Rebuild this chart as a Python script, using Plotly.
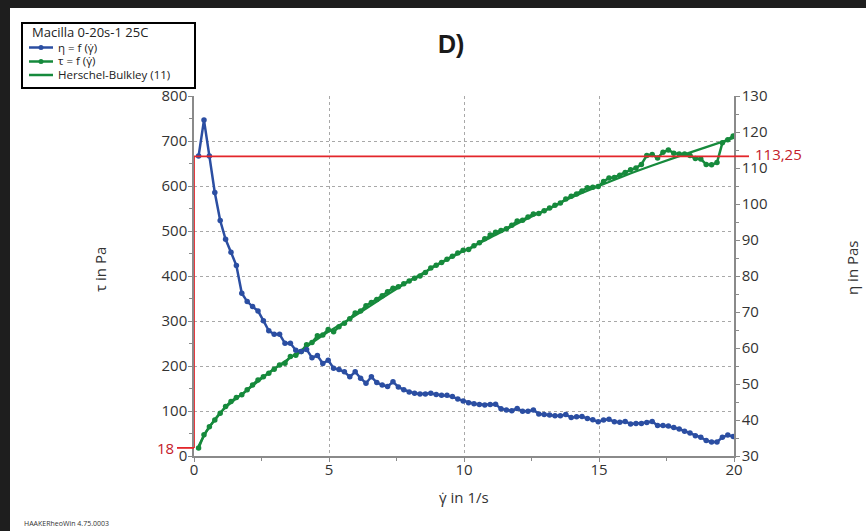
import plotly.graph_objects as go

# ---- data ----
shear_rate = [0.17, 0.37, 0.57, 0.77, 0.97, 1.17, 1.37, 1.57, 1.77, 1.97,
              2.17, 2.37, 2.57, 2.77, 2.97, 3.17, 3.37, 3.57, 3.77, 3.97,
              4.17, 4.37, 4.57, 4.77, 4.97, 5.17, 5.37, 5.57, 5.77, 5.97,
              6.17, 6.37, 6.57, 6.77, 6.97, 7.17, 7.37, 7.57, 7.77, 7.97,
              8.17, 8.37, 8.57, 8.77, 8.97, 9.17, 9.37, 9.57, 9.77, 9.97,
              10.17, 10.37, 10.57, 10.77, 10.97, 11.17, 11.37, 11.57, 11.77, 11.97,
              12.17, 12.37, 12.57, 12.77, 12.97, 13.17, 13.37, 13.57, 13.77, 13.97,
              14.17, 14.37, 14.57, 14.77, 14.97, 15.17, 15.37, 15.57, 15.77, 15.97,
              16.17, 16.37, 16.57, 16.77, 16.97, 17.17, 17.37, 17.57, 17.77, 17.97,
              18.17, 18.37, 18.57, 18.77, 18.97, 19.17, 19.37, 19.57, 19.77, 19.97]

shear_stress = [18, 47, 65, 80, 95, 110, 121, 130, 136, 147,
                158, 169, 176, 184, 193, 202, 206, 221, 224, 232,
                247, 252, 267, 269, 281, 276, 287, 295, 305, 318,
                322, 334, 341, 348, 356, 365, 373, 376, 383, 389,
                395, 400, 408, 418, 424, 430, 437, 444, 451, 457,
                459, 467, 474, 483, 491, 497, 501, 505, 513, 522,
                524, 531, 538, 539, 545, 551, 557, 562, 571, 577,
                582, 589, 596, 597, 599, 610, 618, 619, 624, 630,
                636, 640, 648, 668, 670, 662, 675, 680, 673, 671,
                671, 668, 661, 660, 648, 647, 652, 696, 703, 711]

viscosity = [113.3, 123.3, 113.3, 103.2, 95.4, 90.2, 86.6, 82.9, 75.2, 72.9,
             71.5, 70.3, 67.6, 64.8, 63.8, 63.8, 61.3, 61.3, 59.4, 59.0,
             59.6, 57.3, 57.9, 55.7, 56.6, 54.4, 54.0, 53.4, 52.0, 53.4,
             51.6, 50.2, 52.0, 50.4, 49.7, 49.3, 50.6, 49.2, 48.4, 47.8,
             47.4, 47.2, 47.2, 47.4, 47.1, 46.9, 46.9, 46.5, 45.8, 45.3,
             44.8, 44.5, 44.3, 44.2, 44.3, 44.4, 43.1, 42.8, 42.6, 43.2,
             42.4, 42.4, 42.8, 41.7, 41.5, 41.4, 41.2, 41.2, 41.5, 40.7,
             40.9, 41.0, 40.4, 40.1, 39.5, 40.0, 40.2, 39.5, 39.4, 39.6,
             38.9, 39.0, 39.0, 39.3, 39.6, 38.5, 38.5, 38.3, 37.9, 37.5,
             36.9, 36.4, 35.6, 35.2, 34.3, 33.9, 33.9, 35.2, 35.8, 35.4]

hb_shear_rate = [0.17, 0.5, 1, 2, 3, 4, 5, 6, 7, 8, 9, 10,
                 11, 12, 13, 14, 15, 16, 17, 18, 19, 20]
hb_stress = [22, 58, 98, 148, 195, 236, 277, 313, 352, 390, 424, 456,
             486, 517, 546, 575, 600, 624, 646, 667, 687, 707]

eta_marker = 113.25
tau_marker = 18

x_ticks = [0, 5, 10, 15, 20]
tau_ticks = [0, 100, 200, 300, 400, 500, 600, 700, 800]
eta_ticks = [30, 40, 50, 60, 70, 80, 90, 100, 110, 120, 130]

BLUE = "#2b4ea2"
GREEN = "#168a3c"
RED = "#e3262b"
RED_TXT = "#c4202a"
FONT = "Open Sans"

# plot area in pixels
L, R, T, B = 194, 734, 96, 456
W, H = 866, 531


def px(x):
    return (x - L) / (R - L)


def py(y):
    return (B - y) / (B - T)


fig = go.Figure()
fig.add_trace(go.Scatter(x=shear_rate, y=viscosity, yaxis="y2", mode="lines+markers",
                         line=dict(color=BLUE, width=2.5),
                         marker=dict(color=BLUE, size=5.5, symbol="circle"),
                         name="η = f (γ̇)", showlegend=False))
fig.add_trace(go.Scatter(x=shear_rate, y=shear_stress, mode="lines+markers",
                         line=dict(color=GREEN, width=2.5),
                         marker=dict(color=GREEN, size=5.5, symbol="circle"),
                         name="τ = f (γ̇)", showlegend=False))
fig.add_trace(go.Scatter(x=hb_shear_rate, y=hb_stress, mode="lines",
                         line=dict(color=GREEN, width=2.2, shape="spline"),
                         name="Herschel-Bulkley (11)", showlegend=False))

shapes = []
# red marker lines
shapes.append(dict(type="line", xref="x", yref="y2", x0=0, x1=20, y0=eta_marker, y1=eta_marker,
                   line=dict(color=RED, width=1.8)))
shapes.append(dict(type="line", xref="paper", yref="y2", x0=1.0, x1=px(749), y0=eta_marker, y1=eta_marker,
                   line=dict(color=RED, width=1.8)))
shapes.append(dict(type="line", xref="x", yref="y", x0=0, x1=0, y0=tau_marker, y1=665,
                   line=dict(color=RED, width=1.8)))
shapes.append(dict(type="line", xref="paper", yref="y", x0=px(177), x1=0, y0=tau_marker, y1=tau_marker,
                   line=dict(color=RED, width=1.8)))

# dark frame edges of the screenshot
shapes.append(dict(type="rect", xref="paper", yref="paper", x0=px(-2), x1=px(10), y0=py(H + 2), y1=py(-2),
                   fillcolor="#1e1e1e", line=dict(width=0), layer="above"))
shapes.append(dict(type="rect", xref="paper", yref="paper", x0=px(-2), x1=px(W + 2), y0=py(8), y1=py(-2),
                   fillcolor="#1e1e1e", line=dict(width=0), layer="above"))

# legend box
shapes.append(dict(type="rect", xref="paper", yref="paper", x0=px(22), x1=px(195), y0=py(88), y1=py(23),
                   fillcolor="white", line=dict(color="black", width=2), layer="above"))
legend_rows = [(47.5, BLUE, True, "η = f (γ̇)"), (61.5, GREEN, True, "τ = f (γ̇)"),
               (75, GREEN, False, "Herschel-Bulkley (11)")]
annotations = []
annotations.append(dict(xref="paper", yref="paper", x=px(30), y=py(32.5), text="Macilla 0-20s-1 25C",
                        showarrow=False, xanchor="left", yanchor="middle",
                        font=dict(family=FONT, size=13, color="#222")))
for yy, col, mk, label in legend_rows:
    shapes.append(dict(type="line", xref="paper", yref="paper", x0=px(29), x1=px(53), y0=py(yy), y1=py(yy),
                       line=dict(color=col, width=2.5), layer="above"))
    if mk:
        shapes.append(dict(type="circle", xref="paper", yref="paper", x0=px(38.5), x1=px(43.5),
                           y0=py(yy + 2.5), y1=py(yy - 2.5), fillcolor=col, line=dict(color=col, width=0),
                           layer="above"))
    annotations.append(dict(xref="paper", yref="paper", x=px(56), y=py(yy - 0.5), text=label,
                            showarrow=False, xanchor="left", yanchor="middle",
                            font=dict(family=FONT, size=11.5, color="#222")))

# title and axis labels
annotations.append(dict(xref="paper", yref="paper", x=px(451), y=py(44), text="<b>D)</b>",
                        showarrow=False, xanchor="center", yanchor="middle",
                        font=dict(family="Liberation Sans", size=25, color="#1a1a1a")))
annotations.append(dict(xref="paper", yref="paper", x=px(100), y=py(270), text="τ in Pa",
                        showarrow=False, textangle=-90, xanchor="center", yanchor="middle",
                        font=dict(family=FONT, size=15, color="#333")))
annotations.append(dict(xref="paper", yref="paper", x=px(852), y=py(268), text="η in Pas",
                        showarrow=False, textangle=-90, xanchor="center", yanchor="middle",
                        font=dict(family=FONT, size=15, color="#333")))
annotations.append(dict(xref="paper", yref="paper", x=px(464), y=py(497), text="γ̇ in 1/s",
                        showarrow=False, xanchor="center", yanchor="middle",
                        font=dict(family=FONT, size=15, color="#333")))
annotations.append(dict(xref="paper", yref="y2", x=px(753), y=eta_marker, text="113,25",
                        showarrow=False, xanchor="left", yanchor="middle", yshift=2,
                        font=dict(family=FONT, size=15, color=RED_TXT)))
annotations.append(dict(xref="paper", yref="y", x=px(176), y=tau_marker, text="18",
                        showarrow=False, xanchor="right", yanchor="middle",
                        font=dict(family=FONT, size=15, color=RED_TXT)))
annotations.append(dict(xref="paper", yref="paper", x=px(22), y=py(523), text="HAAKERheoWin 4.75.0003",
                        showarrow=False, xanchor="left", yanchor="middle",
                        font=dict(family=FONT, size=7, color="#333")))

axis_font = dict(family=FONT, size=15, color="#333")
fig.update_layout(
    width=W, height=H,
    margin=dict(l=L, r=W - R, t=T, b=H - B, pad=0),
    paper_bgcolor="white", plot_bgcolor="white",
    showlegend=False,
    shapes=shapes, annotations=annotations,
    xaxis=dict(range=[0, 20], tickvals=x_ticks, ticktext=[str(v) for v in x_ticks],
               showline=True, linecolor="#8a8a8a", linewidth=1.5, ticks="outside", ticklen=4,
               tickcolor="#8a8a8a", tickfont=axis_font, ticklabelstandoff=-5,
               minor=dict(tickvals=[2.5, 7.5, 12.5, 17.5], ticks="outside", ticklen=3, tickcolor="#8a8a8a"),
               showgrid=True, gridcolor="#a8a8a8", griddash="dot", gridwidth=1, zeroline=False),
    yaxis=dict(range=[0, 800], tickvals=tau_ticks, ticktext=[str(v) for v in tau_ticks],
               showline=True, linecolor="#8a8a8a", linewidth=1.5, ticks="outside", ticklen=4,
               tickcolor="#8a8a8a", tickfont=axis_font, ticklabelstandoff=-2,
               minor=dict(dtick=50, ticks="outside", ticklen=3, tickcolor="#8a8a8a"),
               showgrid=True, gridcolor="#a8a8a8", griddash="dot", gridwidth=1, zeroline=False),
    yaxis2=dict(range=[30, 130], tickvals=eta_ticks, ticktext=[str(v) for v in eta_ticks],
                overlaying="y", side="right",
                showline=True, linecolor="#8a8a8a", linewidth=1.5, ticks="outside", ticklen=4,
                tickcolor="#8a8a8a", tickfont=axis_font, ticklabelstandoff=-1,
                minor=dict(dtick=5, ticks="outside", ticklen=3, tickcolor="#8a8a8a"),
                showgrid=False, zeroline=False),
)

fig.write_html("out.html", config={"displayModeBar": False},
               post_script="document.body.style.margin='0';")
